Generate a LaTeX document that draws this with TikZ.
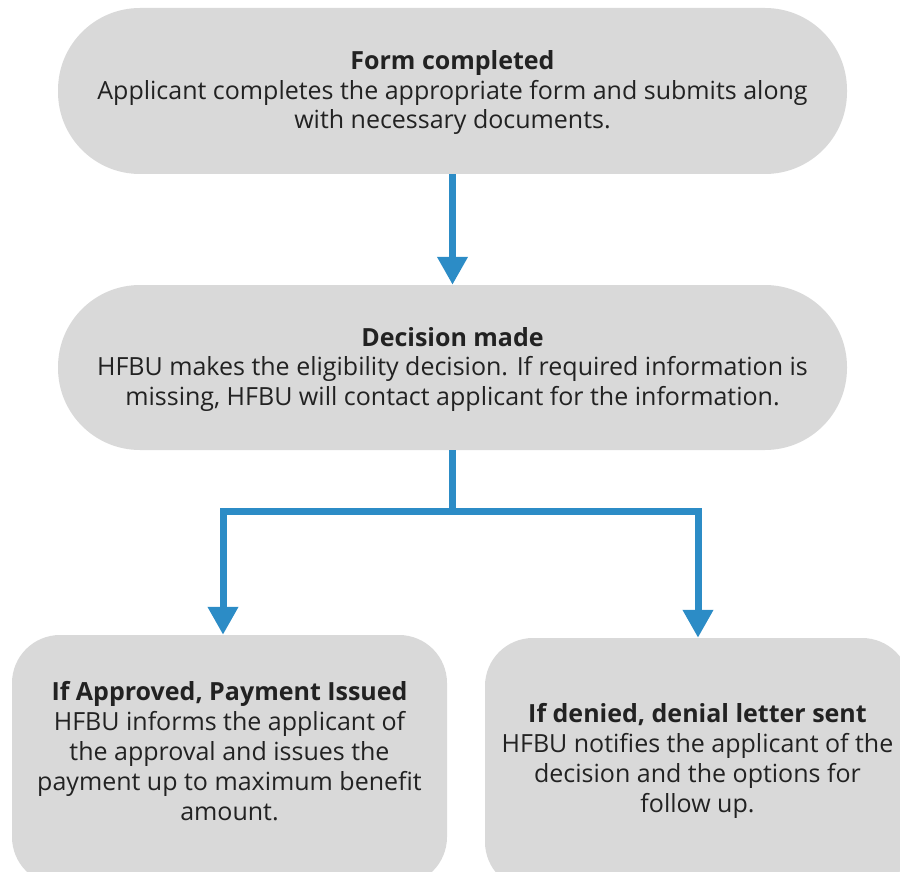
\documentclass[tikz,border=0pt]{standalone}
\usepackage{fontspec}
\setmainfont{Open Sans}
\usetikzlibrary{arrows.meta}
\definecolor{boxgray}{RGB}{217,217,217}
\definecolor{arrblue}{RGB}{44,140,198}
\definecolor{txtgray}{RGB}{34,34,34}
\tikzset{
  pill/.style={fill=boxgray, draw=none, rounded corners=82pt, inner sep=0pt, minimum width=789pt, minimum height=166pt},
  card/.style={fill=boxgray, draw=none, rounded corners=48pt, inner sep=0pt},
  txt/.style={align=center, inner sep=0pt, anchor=base, text=txtgray, font=\fontsize{25}{29.5}\selectfont},
  txtb/.style={txt, font=\fontsize{25}{30}\selectfont},
  arr/.style={draw=arrblue, line width=7pt, line join=miter, -{Triangle[width=29pt,length=28pt]}}
}
\begin{document}
\begin{tikzpicture}[x=1pt,y=-1pt]
\path[use as bounding box, clip] (0,0) rectangle (900,872);
\node[pill] (form) at (452.5,91) {};
\node[pill, minimum height=165pt] (decision) at (452.5,367.5) {};
\node[card, minimum width=435pt, minimum height=250pt] (approved) at (229.5,760) {};
\node[card, minimum width=425pt, minimum height=252pt] (denied) at (697.5,764) {};

\node[txt] (formtxt) at (452.5,129) {\textbf{Form completed}\\Applicant completes the appropriate form and submits along\\with necessary documents.};
\node[txt] (decisiontxt) at (452.5,405) {\textbf{Decision made}\\HFBU makes the eligibility decision. If required information is\\missing, HFBU will contact applicant for the information.};
\node[txtb] (approvedtxt) at (229.5,820) {\textbf{If Approved, Payment Issued}\\HFBU informs the applicant of\\the approval and issues the\\payment up to maximum benefit\\amount.};
\node[txtb] (deniedtxt) at (697.5,812) {\textbf{If denied, denial letter sent}\\HFBU notifies the applicant of the\\decision and the options for\\follow up.};

\draw[arr] (form) -- (decision);
\draw[arr] (decision.south) -- ++(0,61) -| ([xshift=-6.5pt]approved.north);
\draw[arr] (decision.south) -- ++(0,61) -| ([xshift=0.5pt]denied.north);
\end{tikzpicture}
\end{document}
